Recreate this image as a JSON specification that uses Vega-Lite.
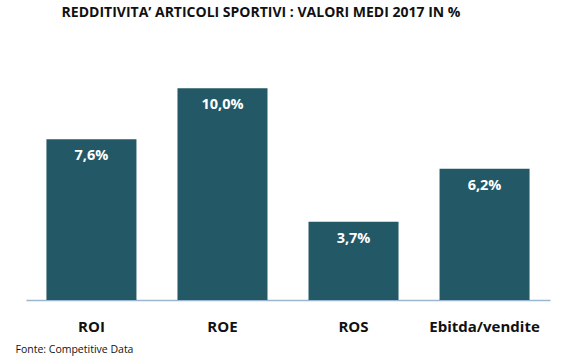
{
  "$schema": "https://vega.github.io/schema/vega-lite/v6.json",
  "width": 524,
  "height": 254,
  "autosize": {"type": "none"},
  "padding": {"left": 26, "top": 46, "right": 21, "bottom": 62},
  "background": "white",
  "title": {
    "text": "REDDITIVITA’ ARTICOLI SPORTIVI : VALORI MEDI 2017 IN %",
    "font": "Open Sans",
    "fontSize": 14,
    "fontWeight": "bold",
    "color": "#111111",
    "anchor": "middle",
    "dx": -27,
    "offset": 26
  },
  "data": {
    "values": [
      {"indicatore": "ROI", "valore": 7.6, "etichetta": "7,6%"},
      {"indicatore": "ROE", "valore": 10.0, "etichetta": "10,0%"},
      {"indicatore": "ROS", "valore": 3.7, "etichetta": "3,7%"},
      {"indicatore": "Ebitda/vendite", "valore": 6.2, "etichetta": "6,2%"}
    ]
  },
  "encoding": {
    "x": {
      "field": "indicatore",
      "type": "nominal",
      "sort": null,
      "scale": {"paddingInner": 0.313, "paddingOuter": 0.156},
      "axis": {
        "title": "Fonte: Competitive Data",
        "titleFont": "Open Sans",
        "titleFontSize": 10.5,
        "titleFontWeight": "normal",
        "titleColor": "#111111",
        "titleAnchor": "start",
        "titleAlign": "left",
        "titleBaseline": "middle",
        "titleX": -11,
        "titleY": 49,
        "labelAngle": 0,
        "labelFont": "Open Sans",
        "labelFontSize": 15,
        "labelFontWeight": "bold",
        "labelColor": "#111111",
        "labelPadding": 19,
        "ticks": false,
        "domainColor": "#9DB6CF",
        "domainWidth": 1.5
      }
    },
    "y": {
      "field": "valore",
      "type": "quantitative",
      "scale": {"domain": [0, 12]},
      "axis": null
    }
  },
  "layer": [
    {"mark": {"type": "bar", "color": "#235867"}},
    {
      "mark": {
        "type": "text",
        "color": "white",
        "font": "Open Sans",
        "fontSize": 14.5,
        "fontWeight": "bold",
        "baseline": "middle",
        "dy": 17
      },
      "encoding": {"text": {"field": "etichetta"}}
    }
  ],
  "config": {"view": {"stroke": null}}
}
